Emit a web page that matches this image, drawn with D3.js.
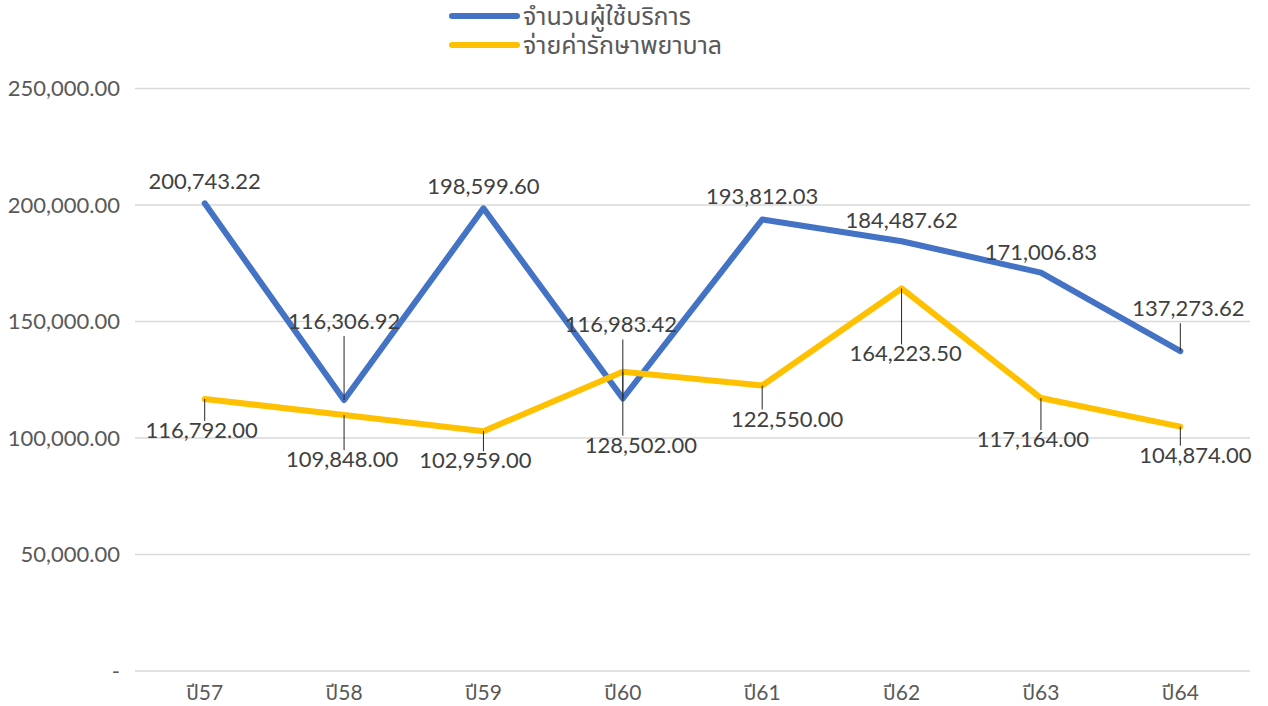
<!DOCTYPE html>
<html>
<head>
<meta charset="utf-8">
<script src="https://cdn.jsdelivr.net/npm/d3@7"></script>
<style>
  html, body { margin: 0; padding: 0; background: #fff; }
  svg text { font-family: Lato, "Noto Sans Thai", "Noto Sans", sans-serif; }
</style>
</head>
<body>
<div id="chart"></div>
<script>
const categories = ['ปี57', 'ปี58', 'ปี59', 'ปี60', 'ปี61', 'ปี62', 'ปี63', 'ปี64'];
const users = [200743.22, 116306.92, 198599.60, 116983.42, 193812.03, 184487.62, 171006.83, 137273.62];
const costs = [116792, 109848, 102959, 128502, 122550, 164223.50, 117164, 104874];
const yTicks = [0, 50000, 100000, 150000, 200000, 250000];
const seriesNames = ['จำนวนผู้ใช้บริการ', 'จ่ายค่ารักษาพยาบาล'];

// label placement (dx, dy of baseline from the point), as moved in the original
const usersLabelPos = [[0, -14], [0, -71], [0, -14], [-2, -66], [0, -15], [0, -13], [0, -13], [8, -35]];
const costsLabelPos = [[-3, 39], [-2, 52], [-8, 37], [18, 81], [25, 41], [4, 73], [-8, 49], [15, 36]];

const W = 1268, H = 706;
const margin = {top: 88.6, right: 18, bottom: 35, left: 135};

const svg = d3.select('#chart').append('svg')
  .attr('width', W).attr('height', H);

const x = d3.scaleBand().domain(categories).range([margin.left, W - margin.right]);
const y = d3.scaleLinear().domain([0, 250000]).range([H - margin.bottom, margin.top]);
const fmt = d3.format(',.2f');

// gridlines
svg.append('g').selectAll('line')
  .data(yTicks).enter().append('line')
  .attr('x1', margin.left).attr('x2', W - margin.right)
  .attr('y1', d => y(d)).attr('y2', d => y(d))
  .attr('stroke', '#d9d9d9').attr('stroke-width', 1.5);

// y labels
svg.append('g').selectAll('text')
  .data(yTicks).enter().append('text')
  .attr('x', 120).attr('y', d => y(d) + 7.5)
  .attr('text-anchor', 'end')
  .style('font-size', '22px').style('fill', '#595959')
  .text(d => d === 0 ? '-' : fmt(d));

// x labels
svg.append('g').selectAll('text')
  .data(categories).enter().append('text')
  .attr('x', d => x(d) + x.bandwidth() / 2).attr('y', 700)
  .attr('text-anchor', 'middle')
  .style('font-size', '21px').style('fill', '#595959')
  .text(d => d);

const series = [
  {values: users, color: '#4472c4', pos: usersLabelPos},
  {values: costs, color: '#ffc000', pos: costsLabelPos}
];

const cx = i => x(categories[i]) + x.bandwidth() / 2;

const line = d3.line()
  .x((d, i) => cx(i))
  .y(d => y(d));

series.forEach(s => {
  svg.append('path')
    .datum(s.values)
    .attr('fill', 'none')
    .attr('stroke', s.color)
    .attr('stroke-width', 6)
    .attr('stroke-linejoin', 'round')
    .attr('stroke-linecap', 'round')
    .attr('d', line);
});

// leader lines
series.forEach(s => {
  s.values.forEach((v, i) => {
    const dy = s.pos[i][1];
    if (Math.abs(dy) < 25) return;
    const py = y(v), by = py + dy;
    const end = dy < 0 ? by + 7 : by - 17;
    svg.append('line')
      .attr('x1', cx(i)).attr('x2', cx(i))
      .attr('y1', py).attr('y2', end)
      .attr('stroke', '#262626').attr('stroke-width', 1);
  });
});

// data labels
series.forEach(s => {
  svg.append('g').selectAll('text')
    .data(s.values).enter().append('text')
    .attr('x', (d, i) => cx(i) + s.pos[i][0])
    .attr('y', (d, i) => y(d) + s.pos[i][1])
    .attr('text-anchor', 'middle')
    .style('font-size', '22px').style('fill', '#404040')
    .text(d => fmt(d));
});

// legend
const legend = svg.append('g').selectAll('g')
  .data(series).enter().append('g')
  .attr('transform', (d, i) => `translate(452, ${16 + i * 29})`);
legend.append('line')
  .attr('x1', 0).attr('x2', 65)
  .attr('stroke', d => d.color).attr('stroke-width', 6)
  .attr('stroke-linecap', 'round');
legend.append('text')
  .attr('x', 71).attr('y', 9)
  .style('font-size', '25px').style('fill', '#595959')
  .text((d, i) => seriesNames[i]);
</script>
</body>
</html>
